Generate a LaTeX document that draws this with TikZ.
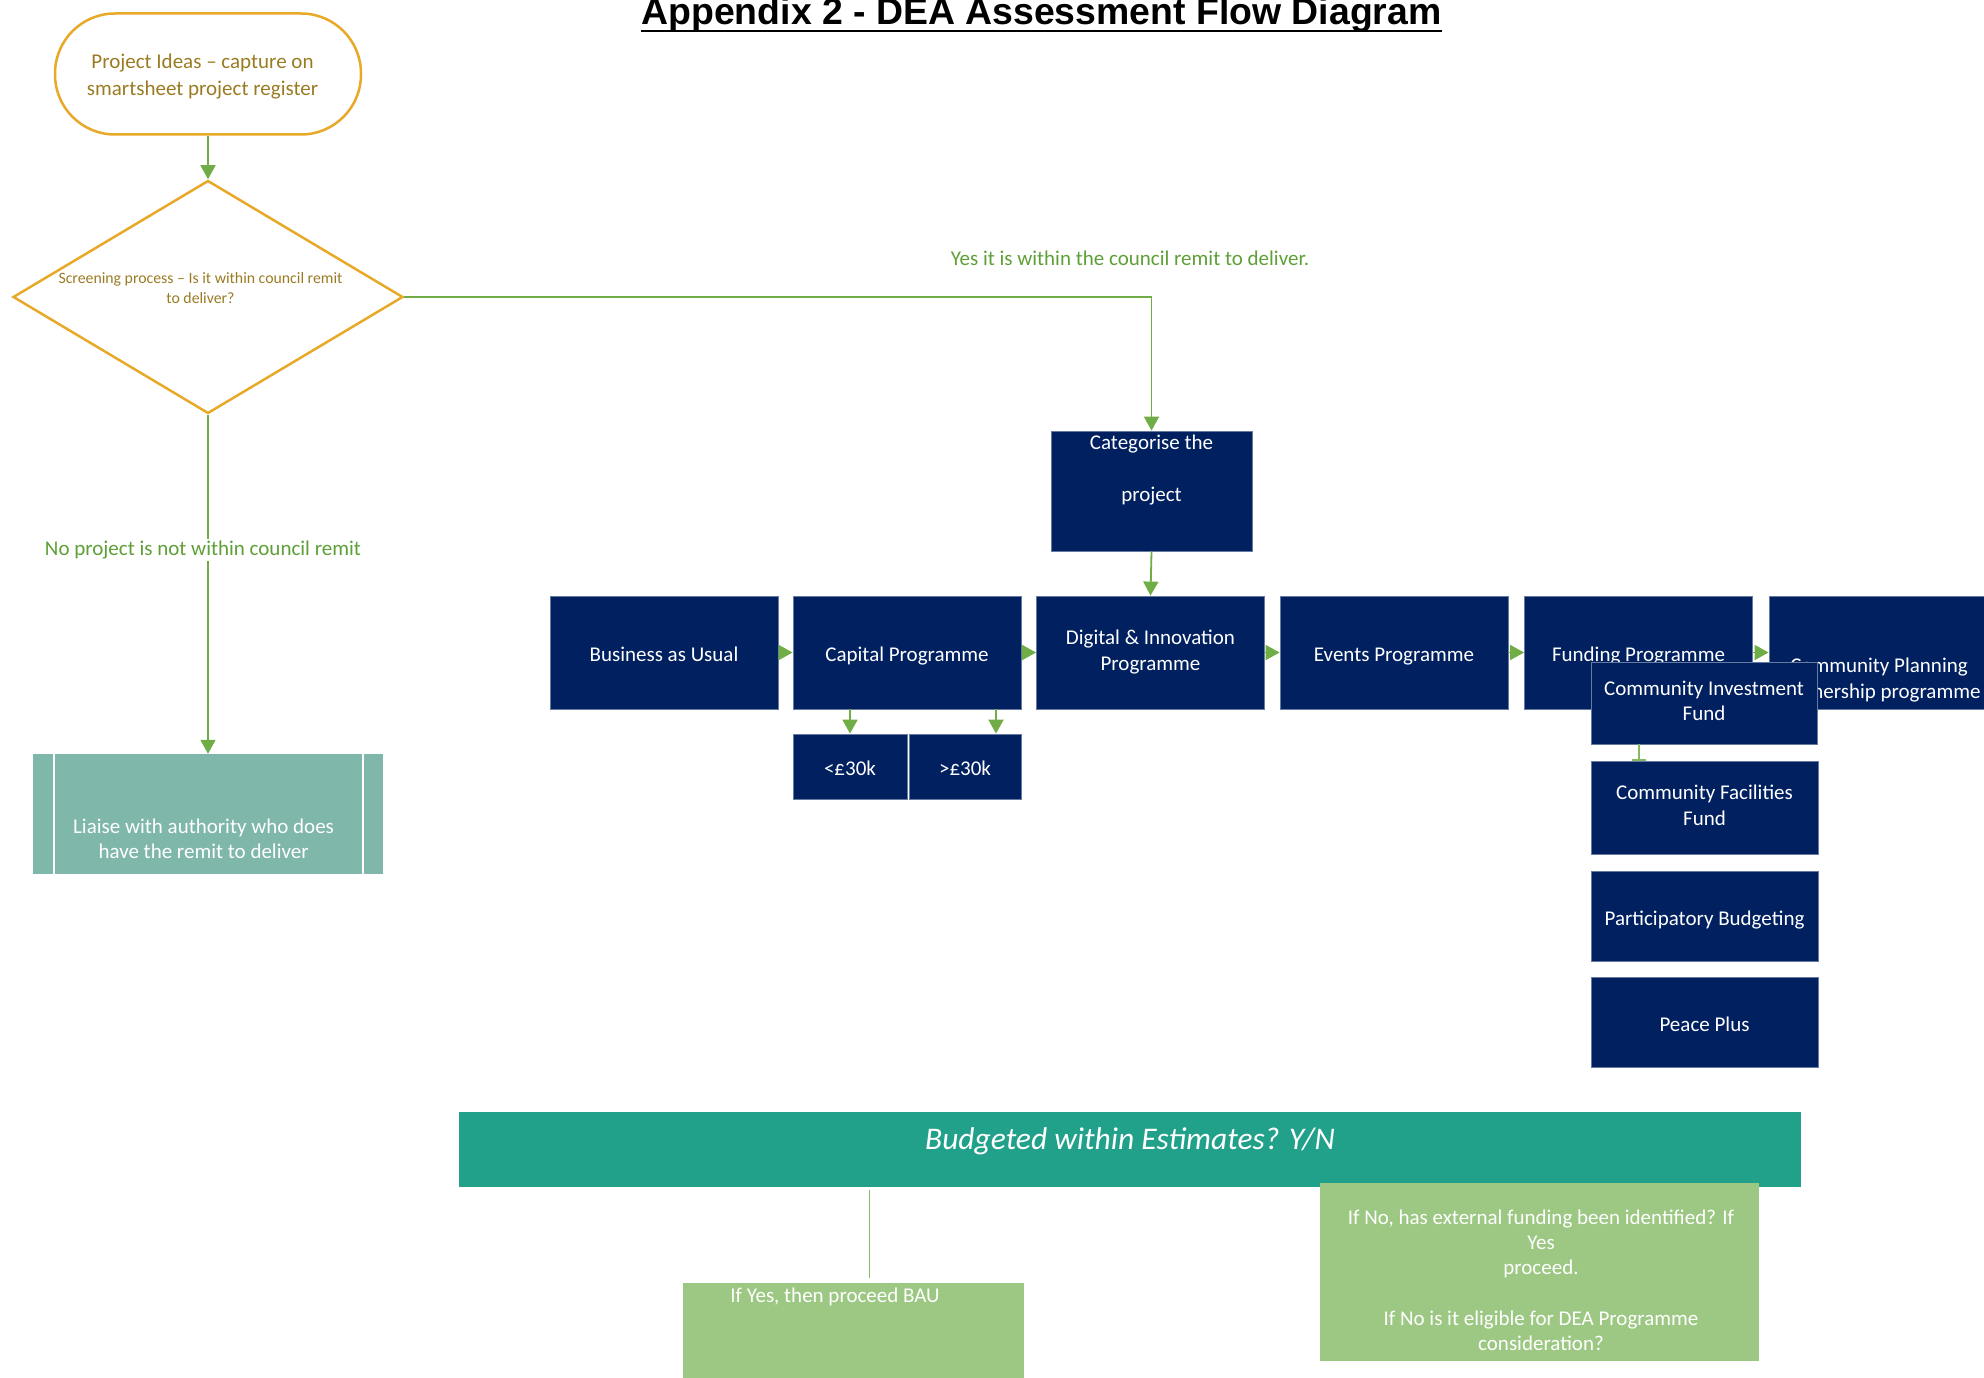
\documentclass[tikz,border=0pt]{standalone}
\usepackage{fontspec}
\setmainfont{Carlito}
\newfontfamily\titlefont{Liberation Sans}
\usetikzlibrary{shapes.geometric,arrows.meta,positioning}

\definecolor{deanavy}{HTML}{002060}
\definecolor{deagold}{HTML}{E8A828}
\definecolor{deaolive}{HTML}{9A7B22}
\definecolor{dealine}{HTML}{70AD47}
\definecolor{dealabel}{HTML}{5E9F37}
\definecolor{deateal}{HTML}{7FB7AA}
\definecolor{deabar}{HTML}{21A08A}
\definecolor{dealight}{HTML}{9DC883}

\tikzset{
  base/.style={font=\fontsize{21}{25.2}\selectfont, inner sep=2pt, align=center},
  navybox/.style={base, rectangle, fill=deanavy, draw=deanavy!60!white, line width=0.8pt,
    text=white, minimum width=228pt, minimum height=113pt,
    execute at begin node=\rule[-4.6pt]{0pt}{27.6pt}},
  lightbox/.style={base, rectangle, fill=dealight, text=white},
  link/.style={draw=dealine, line width=1.8pt, -{Triangle[width=15pt,length=14pt]}},
  plain link/.style={draw=dealine!85!white, line width=1.5pt},
  greenlabel/.style={base, text=dealabel},
}

\begin{document}
\begin{tikzpicture}[x=1pt,y=-1pt]
  \useasboundingbox (0,0) rectangle (1984,1378);

  % title
  \node[font=\titlefont\bfseries\fontsize{37.4}{40}\selectfont, inner sep=0pt, anchor=base] (title)
    at (1041.5,25) {Appendix 2 - DEA Assessment Flow Diagram};
  \draw[line width=2.6pt] ([yshift=-6pt]title.base west) -- ([yshift=-6pt]title.base east);

  % start and screening
  \node[draw=deagold, line width=2.5pt, rounded corners=60pt, minimum width=306pt,
    minimum height=121pt] (ideas) at (208,74) {};
  \node[base, text=deaolive, font=\fontsize{21}{27.5}\selectfont] (ideastxt) at (202.5,76.5)
    {Project Ideas – capture on\\smartsheet project register};
  \node[diamond, shape aspect=1.67, draw=deagold, line width=2.5pt, minimum width=390pt,
    minimum height=233pt, inner sep=0pt] (screen) at (208,297) {};
  \node[base, text=deaolive, font=\fontsize{15.8}{20}\selectfont] (screentxt) at (200.5,288)
    {Screening process – Is it within council remit\\to deliver?};
  \draw[link] (ideas.south) -- (screen.north);

  % no branch
  \node[rectangle, fill=deateal, minimum width=350pt, minimum height=120pt] (liaise) at (208,814) {};
  \draw[white, line width=1.5pt] ([xshift=21pt]liaise.north west) -- ([xshift=21pt]liaise.south west);
  \draw[white, line width=1.5pt] ([xshift=-20pt]liaise.north east) -- ([xshift=-20pt]liaise.south east);
  \node[base, text=white] (liaisetxt) at (203.6,839) {Liaise with authority who does\\have the remit to deliver};
  \draw[link] (screen.south) -- node[greenlabel, fill=white, pos=0.4, xshift=-5pt] (nolbl)
    {No project is not within council remit} (liaise.north);

  % yes branch
  \node[navybox, minimum width=201pt, minimum height=120pt] (cat) at (1151.5,491) {};
  \node[base, text=white] (cattxt) at (1151.5,470) {Categorise the\\[26.8pt]project};
  \node[greenlabel] (yeslbl) at (1130,258) {Yes it is within the council remit to deliver.};
  \draw[link] (screen.east) -| (cat.north);

  % project categories
  \foreach \nm/\x/\txt in {bau/664/Business as Usual, cap/907/Capital Programme,
      dig/1150.5/{Digital \& Innovation\\Programme}, evt/1394/Events Programme,
      fund/1638.5/Funding Programme}
    \node[navybox] (\nm) at (\x,652.5) {\txt};
  \node[navybox] (plan) at (1883,652.5) {};
  \node[base, text=white] (plantxt) at (1879,680) {Community Planning\\Partnership programme};
  \draw[link] (cat.south) -- (dig.north);
  \foreach \a/\b in {bau/cap, cap/dig, dig/evt, evt/fund, fund/plan}
    \draw[link] (\a) -- (\b);

  % capital split
  \node[navybox, minimum width=114pt, minimum height=65pt] (lt) at (850,766.5) {<£30k};
  \node[navybox, minimum width=112pt, minimum height=65pt] (gt) at (965,766.5) {>£30k};
  \coordinate (gtin) at ([xshift=31pt]gt.north);
  \draw[link] (lt.north |- cap.south) -- (lt.north);
  \draw[link] (gtin |- cap.south) -- (gtin);

  % funding streams
  \node[navybox, minimum width=226pt, minimum height=82pt] (cif) at (1704,703) {Community Investment\\Fund};
  \foreach \nm/\y/\h/\txt in {cff/807.5/93/{Community Facilities\\Fund},
      pb/916/90/Participatory Budgeting, pp/1022/90/Peace Plus}
    \node[navybox, minimum width=227pt, minimum height=\h pt] (\nm) at (1704.5,\y) {\txt};
  \coordinate (cifout) at ([xshift=-65pt]cif.south);
  \draw[plain link, -{Bar[width=14pt]}] (cifout) -- (cifout |- cff.north);

  % budget check
  \node[base, fill=deabar, text=white, minimum width=1342pt, minimum height=75pt,
    font=\fontsize{31.5}{36}\selectfont\itshape, text height=21pt, text depth=22pt]
    (budget) at (1130,1149.5) {Budgeted within Estimates? Y/N};
  \node[lightbox, minimum width=341pt, minimum height=120pt] (yesbox) at (853.5,1343) {};
  \node[base, text=white] (yestxt) at (835,1297) {If Yes, then proceed BAU};
  \coordinate (yesin) at ([xshift=16pt]yesbox.north);
  \draw[plain link, shorten <=3pt, shorten >=5pt] (yesin |- budget.south) -- (yesin);
  \node[lightbox, minimum width=439pt, minimum height=178pt] (nobox) at (1539.5,1272) {};
  \node[base, text=white] (notxt) at (1541,1280)
    {If No, has external funding been identified? If\\Yes\\proceed.\\[25.2pt]If No is it eligible for DEA Programme\\consideration?};
\end{tikzpicture}
\end{document}
